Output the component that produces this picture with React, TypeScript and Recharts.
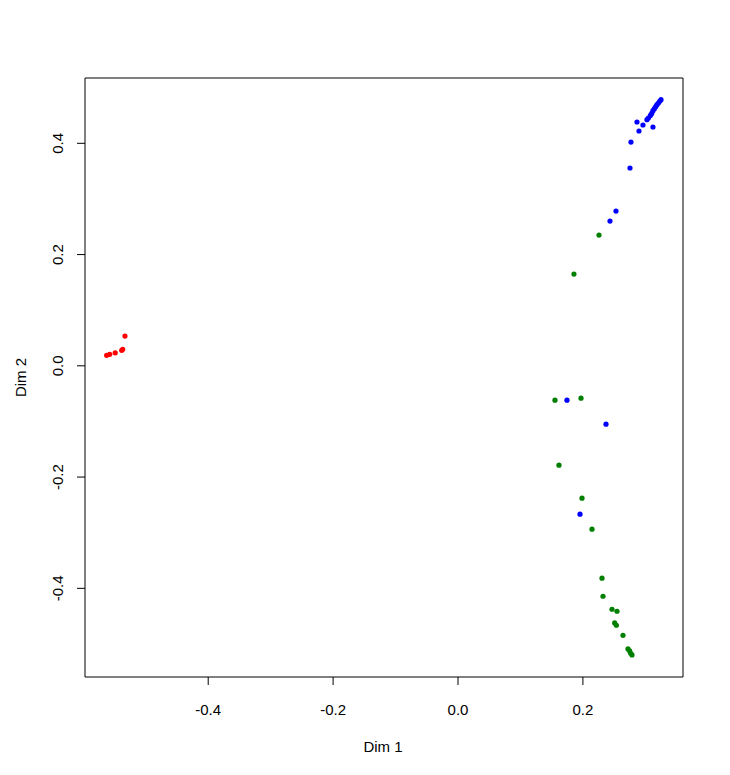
import React from 'react';
import {
  ScatterChart,
  Scatter,
  XAxis,
  YAxis,
  ReferenceArea,
} from 'recharts';

// MDS coordinates
const redDim1 = [-0.5626, -0.5577, -0.5489, -0.5385, -0.5369, -0.5333];
const redDim2 = [0.0189, 0.0207, 0.0234, 0.0279, 0.0297, 0.0534];

const blueDim1 = [
  0.3251, 0.323, 0.3209, 0.3187, 0.3166, 0.3145, 0.3122, 0.3102, 0.3081, 0.3049,
  0.3026, 0.2866, 0.2962, 0.3122, 0.2898, 0.277, 0.2754, 0.253, 0.2434, 0.1745,
  0.237, 0.1954,
];
const blueDim2 = [
  0.4784, 0.4754, 0.4725, 0.4694, 0.4658, 0.4622, 0.4586, 0.4538, 0.4502, 0.4455,
  0.4424, 0.4383, 0.4329, 0.4293, 0.4221, 0.4023, 0.3556, 0.2782, 0.2602, -0.0617,
  -0.1049, -0.2667,
];

const greenDim1 = [
  0.2258, 0.1857, 0.1553, 0.197, 0.1617, 0.1986, 0.2146, 0.2306, 0.2322, 0.2466,
  0.2546, 0.2509, 0.2536, 0.2642, 0.2722, 0.2749, 0.2765, 0.2786,
];
const greenDim2 = [
  0.2351, 0.1649, -0.0617, -0.0581, -0.1786, -0.2379, -0.2937, -0.3818, -0.4142,
  -0.4376, -0.4412, -0.4622, -0.4664, -0.4844, -0.509, -0.5126, -0.5167, -0.5198,
];

const xTicks = [-0.4, -0.2, 0, 0.2];
const yTicks = [-0.4, -0.2, 0, 0.2, 0.4];

const X_MIN = -0.5973;
const X_MAX = 0.3603;
const Y_MIN = -0.5594;
const Y_MAX = 0.5174;

const FONT = '"Liberation Sans", Arial, sans-serif';

const toPoints = (xs: number[], ys: number[]) => xs.map((x, i) => ({ x, y: ys[i] }));

const dot = (color: string) => (props: any) => (
  <circle cx={props.cx} cy={props.cy} r={2.6} fill={color} />
);

const fmt = (v: number) => v.toFixed(1);

const XTick = (props: any) => (
  <text
    x={props.x}
    y={props.y + 30}
    textAnchor="middle"
    fontFamily={FONT}
    fontSize={15}
    fill="#000"
  >
    {fmt(props.payload.value)}
  </text>
);

const YTick = (props: any) => {
  const bx = props.x - 13.5;
  return (
    <text
      x={bx}
      y={props.y}
      transform={`rotate(-90 ${bx} ${props.y})`}
      textAnchor="middle"
      fontFamily={FONT}
      fontSize={15}
      fill="#000"
    >
      {fmt(props.payload.value)}
    </text>
  );
};

export default function App() {
  return (
    <div style={{ position: 'absolute', left: 0, top: 0, background: '#fff' }}>
      <ScatterChart
        width={730}
        height={775}
        margin={{ top: 78, right: 47, bottom: 0, left: 0 }}
      >
        <XAxis
          type="number"
          dataKey="x"
          domain={[X_MIN, X_MAX]}
          allowDataOverflow
          ticks={xTicks}
          height={98}
          axisLine={false}
          tickLine={{ stroke: '#000' }}
          tickSize={8}
          tickMargin={0}
          tick={<XTick />}
          label={{
            content: (p: any) => (
              <text
                x={p.viewBox.x + p.viewBox.width / 2 - 1}
                y={p.viewBox.y + 75}
                textAnchor="middle"
                fontFamily={FONT}
                fontSize={15}
                fill="#000"
              >
                Dim 1
              </text>
            ),
          }}
        />
        <YAxis
          type="number"
          dataKey="y"
          domain={[Y_MIN, Y_MAX]}
          allowDataOverflow
          ticks={yTicks}
          width={85}
          axisLine={false}
          tickLine={{ stroke: '#000' }}
          tickSize={8}
          tickMargin={0}
          tick={<YTick />}
          label={{
            content: (p: any) => {
              const cy = p.viewBox.y + p.viewBox.height / 2;
              return (
                <text
                  x={26}
                  y={cy}
                  transform={`rotate(-90 26 ${cy})`}
                  textAnchor="middle"
                  fontFamily={FONT}
                  fontSize={15}
                  fill="#000"
                >
                  Dim 2
                </text>
              );
            },
          }}
        />
        <ReferenceArea
          x1={X_MIN}
          x2={X_MAX}
          y1={Y_MIN}
          y2={Y_MAX}
          fill="none"
          stroke="#000"
          strokeWidth={1}
          fillOpacity={0}
        />
        <Scatter data={toPoints(redDim1, redDim2)} shape={dot('#ff0000')} isAnimationActive={false} />
        <Scatter data={toPoints(blueDim1, blueDim2)} shape={dot('#0000ff')} isAnimationActive={false} />
        <Scatter data={toPoints(greenDim1, greenDim2)} shape={dot('#007f00')} isAnimationActive={false} />
      </ScatterChart>
    </div>
  );
}
